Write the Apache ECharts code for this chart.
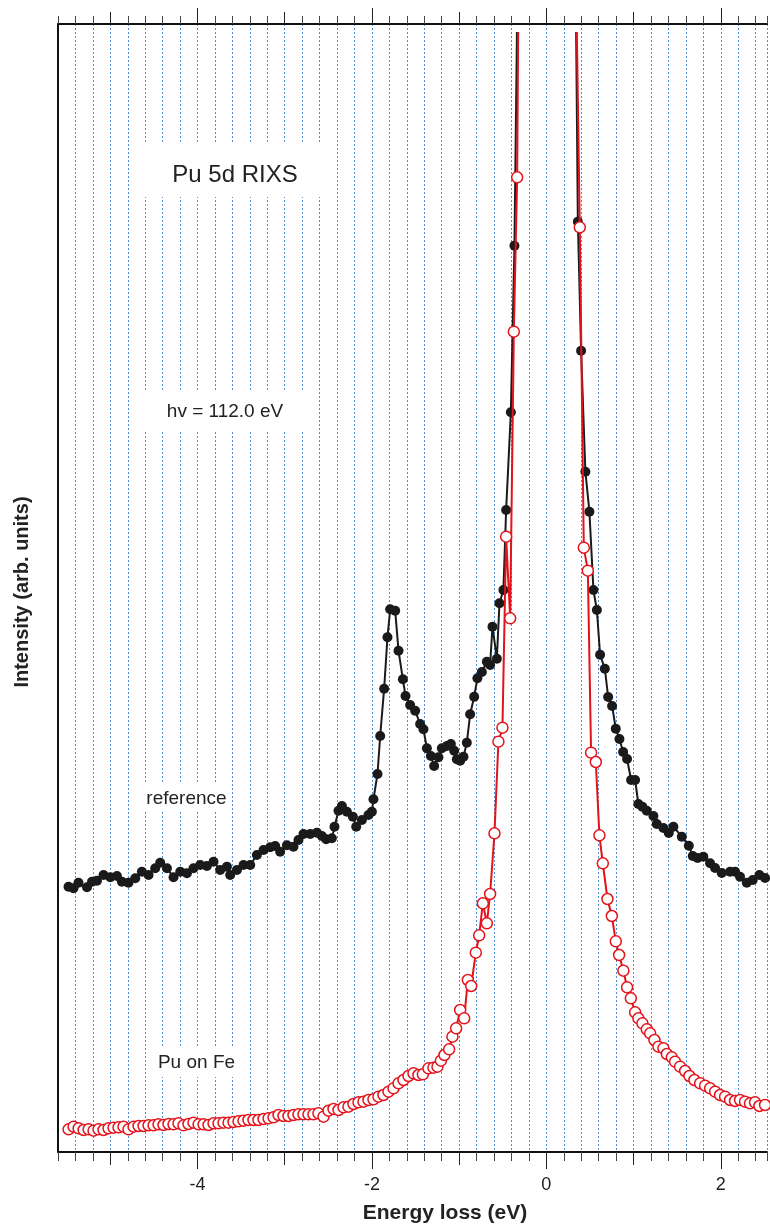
<!DOCTYPE html>
<html>
<head>
<meta charset="utf-8">
<script src="https://cdn.jsdelivr.net/npm/echarts@6/dist/echarts.min.js"></script>
<style>
  html, body { margin: 0; padding: 0; background: #fff; }
  #chart { width: 770px; height: 1229px; }
</style>
</head>
<body>
<div id="chart"></div>
<script>
// Energy-loss axis (eV)
const xMin = -5.6;
const xMax = 2.53;
const labelTicks = [-4, -2, 0, 2];
const oddTicks = [-5, -3, -1, 1];

// "reference" spectrum (filled black markers); elastic line rises far off scale
const refX = [-5.480,-5.423,-5.366,-5.269,-5.212,-5.155,-5.080,-5.003,-4.927,-4.870,-4.795,-4.718,-4.642,-4.566,-4.490,-4.433,-4.356,-4.281,-4.204,-4.128,-4.053,-3.976,-3.900,-3.824,-3.748,-3.671,-3.634,-3.557,-3.482,-3.405,-3.329,-3.253,-3.177,-3.120,-3.063,-2.986,-2.911,-2.854,-2.797,-2.720,-2.644,-2.587,-2.538,-2.473,-2.443,-2.397,-2.358,-2.301,-2.233,-2.195,-2.130,-2.055,-2.016,-1.998,-1.952,-1.921,-1.876,-1.838,-1.807,-1.750,-1.712,-1.662,-1.632,-1.579,-1.522,-1.465,-1.427,-1.388,-1.342,-1.305,-1.256,-1.217,-1.160,-1.114,-1.076,-1.046,-1.008,-0.970,-0.932,-0.894,-0.848,-0.811,-0.760,-0.703,-0.666,-0.639,-0.589,-0.559,-0.514,-0.483,-0.429,-0.388,
  -0.343,-0.298,-0.253,-0.208,-0.163,-0.118,-0.073,-0.028,0.017,0.062,0.107,0.152,0.197,0.242,0.288,
  0.336,0.373,0.422,0.468,0.514,0.553,0.590,0.644,0.682,0.727,0.769,0.811,0.853,0.898,0.944,0.990,1.027,1.073,1.123,1.199,1.237,1.313,1.374,1.427,1.523,1.603,1.648,1.703,1.769,1.846,1.903,1.979,2.074,2.131,2.188,2.265,2.333,2.409,2.474];
const refY = [26.53,26.37,26.93,26.47,27.03,27.13,27.70,27.47,27.60,27.03,26.93,27.37,28.03,27.70,28.37,28.93,28.37,27.47,28.03,27.87,28.37,28.70,28.60,29.03,28.20,28.53,27.70,28.20,28.70,28.70,29.70,30.20,30.47,30.60,30.03,30.67,30.53,31.20,31.80,31.80,31.93,31.60,31.27,31.37,32.53,34.13,34.60,34.03,33.53,32.53,33.20,33.70,34.03,35.27,37.80,41.60,46.33,51.47,54.27,54.13,50.13,47.27,45.60,44.70,44.13,42.80,42.27,40.37,39.60,38.60,39.47,40.37,40.60,40.80,40.13,39.27,39.13,39.53,40.93,43.77,45.53,47.37,48.00,49.03,48.70,52.53,49.33,54.87,56.20,64.20,73.97,90.63,
  124,175,250,360,500,650,780,850,840,760,620,470,330,220,139.7,
  93.03,80.13,68.03,64.03,56.20,54.20,49.73,48.33,45.50,44.60,42.33,41.30,40.00,39.30,37.20,37.20,34.80,34.53,34.13,33.60,32.80,32.40,31.90,32.53,31.53,30.63,29.60,29.40,29.53,28.87,28.40,27.90,28.03,28.03,27.53,26.93,27.20,27.70,27.40];

// "Pu on Fe" spectrum (open red markers)
const puX = [-5.479,-5.422,-5.365,-5.308,-5.251,-5.194,-5.137,-5.080,-5.023,-4.966,-4.909,-4.852,-4.795,-4.737,-4.680,-4.623,-4.566,-4.509,-4.452,-4.395,-4.338,-4.281,-4.224,-4.167,-4.110,-4.053,-3.995,-3.938,-3.881,-3.824,-3.767,-3.710,-3.653,-3.596,-3.539,-3.482,-3.425,-3.368,-3.311,-3.253,-3.196,-3.139,-3.082,-3.025,-2.968,-2.911,-2.854,-2.797,-2.740,-2.683,-2.626,-2.568,-2.511,-2.454,-2.397,-2.340,-2.283,-2.226,-2.169,-2.112,-2.055,-1.998,-1.941,-1.884,-1.826,-1.769,-1.712,-1.655,-1.598,-1.541,-1.484,-1.434,-1.370,-1.313,-1.267,-1.228,-1.187,-1.134,-1.096,-1.054,-1.008,-0.962,-0.920,-0.882,-0.829,-0.791,-0.749,-0.703,-0.666,-0.616,-0.571,-0.525,-0.483,-0.437,-0.395,-0.357,
  -0.306,-0.260,-0.215,-0.170,-0.125,-0.080,-0.035,0.010,0.055,0.100,0.145,0.190,0.235,0.265,0.311,
  0.358,0.404,0.450,0.487,0.541,0.582,0.621,0.674,0.724,0.769,0.807,0.856,0.898,0.941,0.990,1.027,1.073,1.123,1.161,1.210,1.256,1.313,1.352,1.409,1.446,1.503,1.561,1.610,1.667,1.732,1.789,1.846,1.903,1.960,2.017,2.074,2.131,2.188,2.245,2.302,2.359,2.409,2.474];
const puY = [2.27,2.53,2.37,2.20,2.27,2.13,2.27,2.20,2.37,2.43,2.47,2.53,2.27,2.53,2.60,2.60,2.67,2.67,2.77,2.70,2.80,2.77,2.87,2.67,2.80,2.93,2.77,2.77,2.70,2.87,2.87,2.93,2.93,3.00,3.07,3.13,3.20,3.20,3.20,3.30,3.37,3.47,3.70,3.60,3.60,3.70,3.77,3.77,3.77,3.77,3.87,3.53,4.13,4.30,4.20,4.47,4.53,4.80,4.97,5.03,5.20,5.27,5.53,5.70,6.03,6.37,6.87,7.20,7.60,7.87,7.70,7.77,8.37,8.43,8.53,9.13,9.70,10.27,11.53,12.37,14.20,13.37,17.20,16.60,19.93,21.67,24.87,22.87,25.80,31.87,41.03,42.43,61.53,53.37,82.03,97.47,
  162,240,350,490,640,770,850,860,790,650,500,360,240,170,119.7,
  92.47,60.43,58.13,39.93,39.00,31.67,28.87,25.30,23.60,21.07,19.70,18.13,16.47,15.37,13.97,13.37,12.87,12.27,11.87,11.20,10.53,10.37,9.80,9.47,9.03,8.53,8.10,7.60,7.20,6.87,6.63,6.37,6.03,5.70,5.53,5.20,5.10,5.20,5.03,4.87,4.97,4.60,4.70];

// Visible intensity window of the plotting area
const yMin = 0;
const yMax = 111.9;

const FONT = 'Liberation Sans, Arial, Helvetica, sans-serif';
const INK = '#222';
const RED = '#e4121b';

const pairs = (xs, ys) => xs.map((x, i) => [x, ys[i]]);

const chart = echarts.init(document.getElementById('chart'), null, { renderer: 'canvas' });

function tickAxis(position, values, len) {
  return {
    type: 'value', gridIndex: 0, position: position, min: xMin, max: xMax,
    axisLine: { show: false },
    axisTick: { show: true, customValues: values, length: len, lineStyle: { color: '#222', width: 1 } },
    axisLabel: { show: false },
    splitLine: { show: false }
  };
}

const option = {
  animation: false,
  backgroundColor: '#fff',
  grid: [
    { left: 58, right: 0, top: 24, bottom: 77 },   // frame, ticks and dotted grid
    { left: 58, right: 0, top: 33, bottom: 77 }    // data area
  ],
  xAxis: [
    {
      type: 'value', gridIndex: 0, position: 'bottom', min: xMin, max: xMax, interval: 0.2,
      axisLine: { show: true, onZero: false, lineStyle: { color: '#111', width: 2 } },
      axisTick: { show: true, length: 9, lineStyle: { color: '#444', width: 1 } },
      axisLabel: {
        show: true, margin: 24, fontFamily: FONT, fontSize: 18, color: INK,
        formatter: function (v) {
          const r = Math.round(v);
          return (Math.abs(v - r) < 1e-6 && labelTicks.indexOf(r) >= 0) ? String(r) : '';
        }
      },
      splitLine: { show: true, lineStyle: { color: '#4a8fd8', width: 1, type: [2, 2] } }
    },
    tickAxis('bottom', oddTicks, 13),
    tickAxis('bottom', labelTicks, 17),
    {
      type: 'value', gridIndex: 0, position: 'top', min: xMin, max: xMax, interval: 0.2,
      axisLine: { show: true, onZero: false, lineStyle: { color: '#111', width: 2 } },
      axisTick: { show: true, length: 8, lineStyle: { color: '#444', width: 1 } },
      axisLabel: { show: false },
      splitLine: { show: false }
    },
    tickAxis('top', oddTicks, 12),
    tickAxis('top', labelTicks, 16),
    { type: 'value', gridIndex: 1, min: xMin, max: xMax, show: false }
  ],
  yAxis: [
    {
      type: 'value', gridIndex: 0, min: 0, max: 1,
      axisLine: { show: true, onZero: false, lineStyle: { color: '#111', width: 2 } },
      axisTick: { show: false }, axisLabel: { show: false }, splitLine: { show: false }
    },
    { type: 'value', gridIndex: 1, min: yMin, max: yMax, show: false }
  ],
  series: [
    {
      name: 'reference', type: 'line', xAxisIndex: 6, yAxisIndex: 1,
      data: pairs(refX, refY), clip: true,
      symbol: 'circle', symbolSize: 10,
      itemStyle: { color: '#1a1a1a' },
      lineStyle: { color: '#1a1a1a', width: 2 },
      emphasis: { disabled: true }, z: 3
    },
    {
      name: 'Pu on Fe', type: 'line', xAxisIndex: 6, yAxisIndex: 1,
      data: pairs(puX, puY), clip: true,
      symbol: 'circle', symbolSize: 11,
      itemStyle: { color: '#fff', borderColor: RED, borderWidth: 1.5 },
      lineStyle: { color: RED, width: 2 },
      emphasis: { disabled: true }, z: 4
    }
  ],
  graphic: [
    { type: 'rect', z: 10, shape: { x: 140, y: 143, width: 190, height: 54 }, style: { fill: '#fff' } },
    { type: 'text', z: 11, x: 235, y: 175, style: { text: 'Pu 5d RIXS', font: '24px ' + FONT, fill: INK, textAlign: 'center', textVerticalAlign: 'middle' } },
    { type: 'rect', z: 10, shape: { x: 140, y: 390, width: 170, height: 40 }, style: { fill: '#fff' } },
    { type: 'text', z: 11, x: 225, y: 412, style: { text: 'hv = 112.0 eV', font: '19px ' + FONT, fill: INK, textAlign: 'center', textVerticalAlign: 'middle' } },
    { type: 'rect', z: 10, shape: { x: 138, y: 782, width: 92, height: 30 }, style: { fill: '#fff' } },
    { type: 'text', z: 11, x: 186.5, y: 799, style: { text: 'reference', font: '19px ' + FONT, fill: INK, textAlign: 'center', textVerticalAlign: 'middle' } },
    { type: 'rect', z: 10, shape: { x: 150, y: 1047, width: 93, height: 30 }, style: { fill: '#fff' } },
    { type: 'text', z: 11, x: 196.5, y: 1063, style: { text: 'Pu on Fe', font: '19px ' + FONT, fill: INK, textAlign: 'center', textVerticalAlign: 'middle' } },
    { type: 'text', z: 11, x: 445, y: 1213, style: { text: 'Energy loss (eV)', font: 'bold 21px ' + FONT, fill: INK, textAlign: 'center', textVerticalAlign: 'middle' } },
    { type: 'text', z: 11, x: 22, y: 592, rotation: Math.PI / 2, style: { text: 'Intensity (arb. units)', font: 'bold 20px ' + FONT, fill: INK, textAlign: 'center', textVerticalAlign: 'middle' } }
  ]
};

chart.setOption(option);
</script>
</body>
</html>
